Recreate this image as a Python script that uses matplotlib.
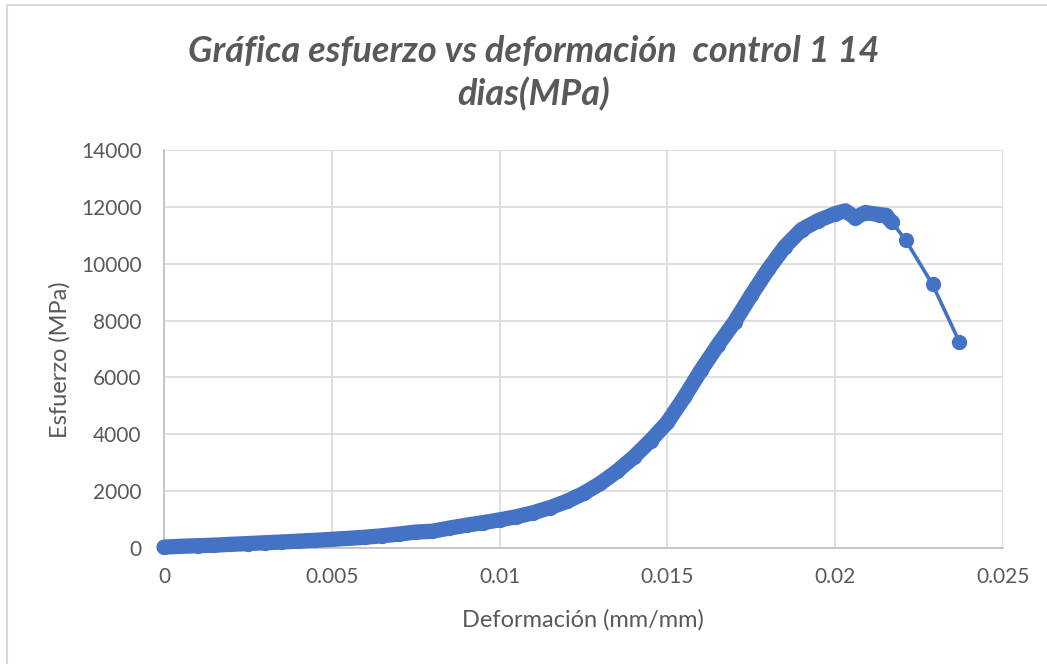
import matplotlib
matplotlib.use("Agg")
import matplotlib.pyplot as plt
from matplotlib.lines import Line2D

# strain (mm/mm) vs stress (MPa)
deformacion = [0.0, 0.0005, 0.001, 0.0015, 0.002, 0.0025, 0.003, 0.0035, 0.004, 0.0045,
               0.005, 0.0055, 0.006, 0.0065, 0.007, 0.0075, 0.008, 0.0085, 0.009, 0.0095,
               0.010, 0.0105, 0.011, 0.0115, 0.012, 0.0125, 0.013, 0.0135, 0.014, 0.0145,
               0.015, 0.0155, 0.016, 0.0165, 0.017, 0.0175, 0.018, 0.0185, 0.019, 0.0195,
               0.020, 0.0203, 0.0206, 0.0209, 0.0213, 0.0215, 0.0217, 0.0221, 0.0229, 0.0237]
esfuerzo = [30, 60, 80, 100, 130, 155, 185, 210, 240, 270,
            305, 340, 380, 430, 490, 560, 590, 700, 800, 890,
            990, 1100, 1240, 1420, 1640, 1920, 2270, 2700, 3200, 3780,
            4420, 5300, 6250, 7130, 7950, 8900, 9800, 10600, 11200, 11520,
            11760, 11860, 11620, 11800, 11730, 11700, 11450, 10830, 9270, 7250]
n_denso = 47  # points that are so close together in the source they form a band

x_ticks = [0, 0.005, 0.01, 0.015, 0.02, 0.025]
x_labels = ["0", "0.005", "0.01", "0.015", "0.02", "0.025"]
y_ticks = [0, 2000, 4000, 6000, 8000, 10000, 12000, 14000]

azul = "#4472C4"
gris_txt = "#595959"
gris_rej = "#d9d9d9"
fuente = ["Lato", "DejaVu Sans"]

fig = plt.figure(figsize=(10.47, 6.64), dpi=100)
ax = fig.add_axes([164 / 1047, 1 - 548 / 664, (1003 - 164) / 1047, (548 - 150) / 664])

ax.plot(deformacion, esfuerzo, color=azul, lw=2.6, marker="o", ms=11, mew=0,
        mfc=azul, zorder=3, clip_on=False)
ax.plot(deformacion[:n_denso], esfuerzo[:n_denso], color=azul, lw=11,
        solid_capstyle="round", solid_joinstyle="round", zorder=3, clip_on=False)

ax.set_xlim(0, 0.025)
ax.set_ylim(0, 14000)
ax.set_xticks(x_ticks)
ax.set_xticklabels(x_labels)
ax.set_yticks(y_ticks)
ax.grid(True, color=gris_rej, lw=1.2)
ax.set_axisbelow(True)
for s in ["top", "right"]:
    ax.spines[s].set_visible(False)
for s in ["left", "bottom"]:
    ax.spines[s].set_color("#bfbfbf")
    ax.spines[s].set_linewidth(1.2)
ax.tick_params(length=0, labelsize=15, labelcolor=gris_txt)
ax.tick_params(axis="y", pad=16)
ax.tick_params(axis="x", pad=14)
for lab in ax.get_xticklabels() + ax.get_yticklabels():
    lab.set_family(fuente)

ax.set_xlabel("Deformación (mm/mm)", fontsize=17, color=gris_txt, family=fuente)
ax.set_ylabel("Esfuerzo (MPa)", fontsize=17, color=gris_txt, family=fuente)
ax.xaxis.set_label_coords((583 - 164) / 839, (548 - 620) / 398)
ax.yaxis.set_label_coords((60 - 164) / 839, (548 - 360) / 398)
ax.xaxis.label.set_va("center")
ax.yaxis.label.set_va("center")

fig.text(534 / 1047, 1 - 73 / 664, "Gráfica esfuerzo vs deformación  control 1 14\ndias(MPa)",
         ha="center", va="center", fontsize=26, fontstyle="italic", fontweight="bold",
         color=gris_txt, family=fuente, linespacing=1.3)

# chart area border (left and top only visible in the source)
fig.add_artist(Line2D([7 / 1047, 7 / 1047], [0, 1 - 5 / 664], color=gris_rej, lw=1.5,
                      transform=fig.transFigure))
fig.add_artist(Line2D([7 / 1047, 1], [1 - 5 / 664, 1 - 5 / 664], color=gris_rej, lw=1.5,
                      transform=fig.transFigure))

fig.savefig("out.png", dpi=100)
